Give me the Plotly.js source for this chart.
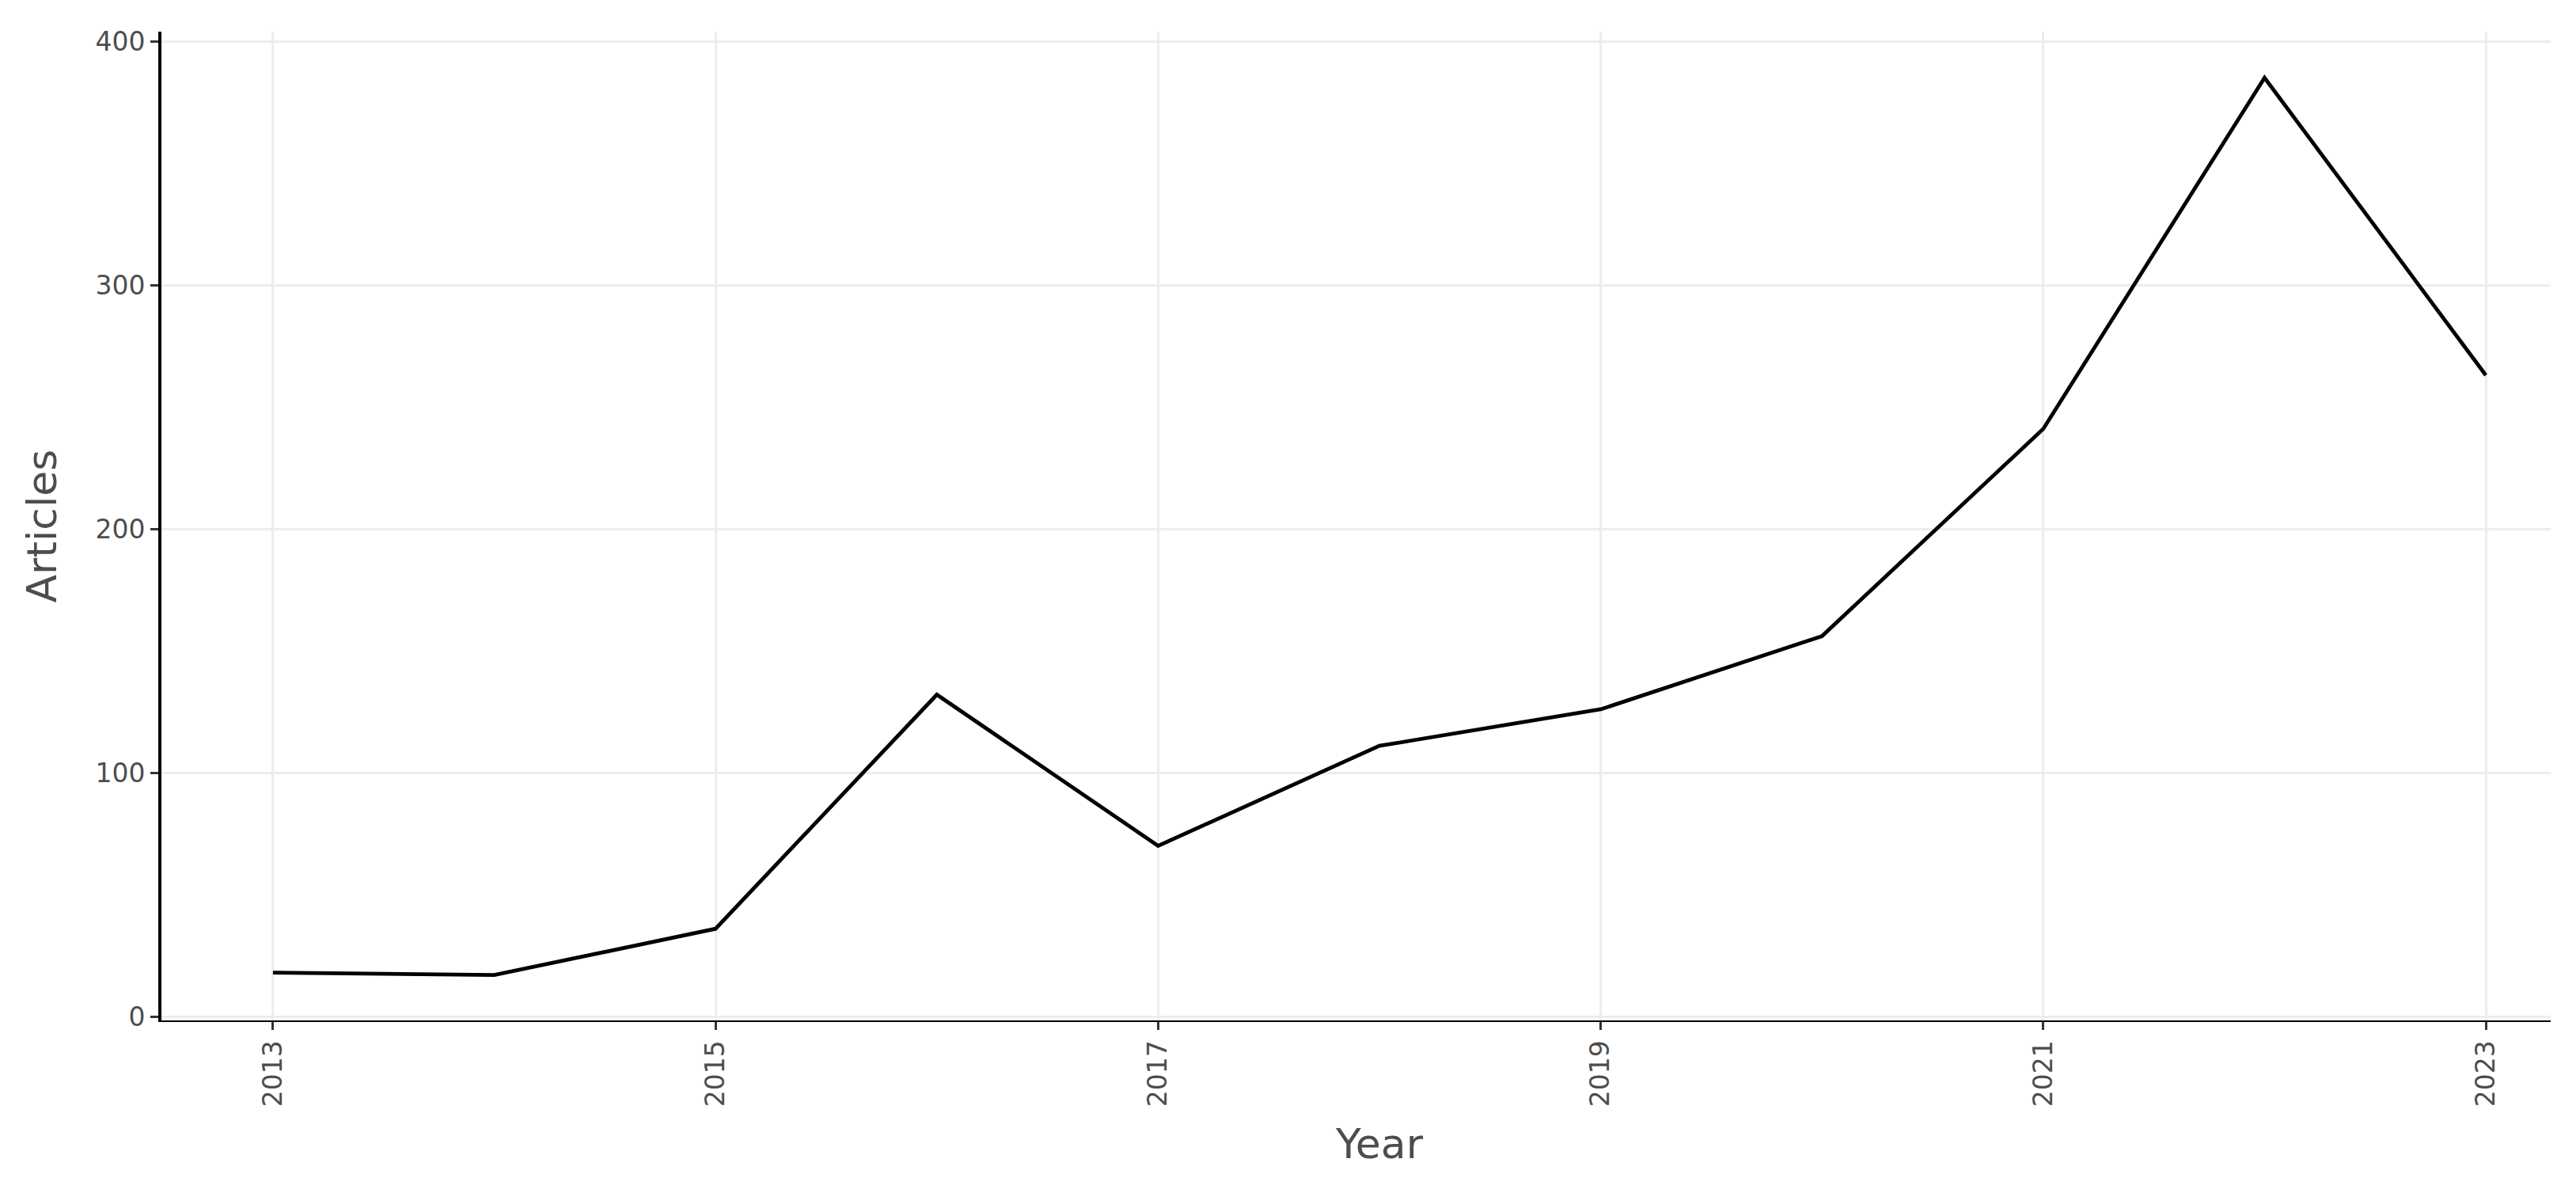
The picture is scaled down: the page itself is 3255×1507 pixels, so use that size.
<!DOCTYPE html>
<html>
<head>
<meta charset="utf-8">
<script src="https://cdn.plot.ly/plotly-3.0.1.min.js"></script>
<style>
  html, body { margin: 0; padding: 0; background: #fff; }
  #chart { width: 3255px; height: 1507px; }
</style>
</head>
<body>
<div id="chart"></div>
<script>
const years = [2013, 2014, 2015, 2016, 2017, 2018, 2019, 2020, 2021, 2022, 2023];
const articles = [18, 17, 36, 132, 70, 111, 126, 156, 241, 385, 263];
const xTickVals = [2013, 2015, 2017, 2019, 2021, 2023];
const xTickText = ["2013", "2015", "2017", "2019", "2021", "2023"];
const yTickVals = [0, 100, 200, 300, 400];
const yTickText = ["0", "100", "200", "300", "400"];

const FONT = "DejaVu Sans, Verdana, sans-serif";

const trace = {
  x: years,
  y: articles,
  type: "scatter",
  mode: "lines",
  line: { color: "#000000", width: 4.8 },
  hoverinfo: "x+y",
  showlegend: false
};

const layout = {
  width: 3255,
  height: 1507,
  paper_bgcolor: "#ffffff",
  plot_bgcolor: "#ffffff",
  margin: { l: 204, r: 32, t: 40, b: 218 },
  font: { family: FONT, color: "#4d4d4d" },
  showlegend: false,
  xaxis: {
    range: [2012.496, 2023.293],
    tickmode: "array",
    tickvals: xTickVals,
    ticktext: xTickText,
    tickangle: -90,
    ticks: "outside",
    ticklen: 10,
    tickwidth: 3,
    tickcolor: "#333333",
    tickfont: { family: FONT, size: 33, color: "#4d4d4d" },
    showgrid: true,
    gridcolor: "#ededed",
    gridwidth: 2.5,
    zeroline: false,
    showline: true,
    linecolor: "#000000",
    linewidth: 2,
    automargin: false,
    title: { text: "" }
  },
  yaxis: {
    range: [-1.6, 403.9],
    tickmode: "array",
    tickvals: yTickVals,
    ticktext: yTickText,
    ticks: "outside",
    ticklen: 10,
    tickwidth: 3,
    tickcolor: "#333333",
    tickfont: { family: FONT, size: 33, color: "#4d4d4d" },
    showgrid: true,
    gridcolor: "#ededed",
    gridwidth: 2.5,
    zeroline: false,
    showline: true,
    linecolor: "#000000",
    linewidth: 4,
    automargin: false,
    title: { text: "Articles", font: { family: FONT, size: 52, color: "#4d4d4d" }, standoff: 33 }
  },
  annotations: [{
    text: "Year",
    xref: "paper", yref: "paper",
    x: 0.5098, y: -0.099,
    xanchor: "center", yanchor: "top",
    showarrow: false,
    font: { family: FONT, size: 52, color: "#4d4d4d" }
  }]
};

Plotly.newPlot("chart", [trace], layout, { displayModeBar: false, responsive: false });
</script>
</body>
</html>
